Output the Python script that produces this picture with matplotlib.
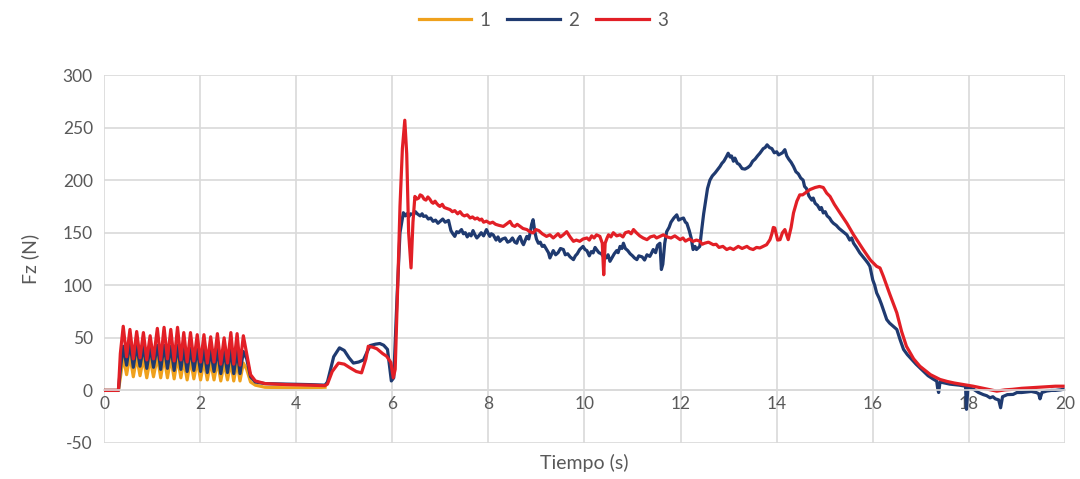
import matplotlib
matplotlib.use("Agg")
import matplotlib.pyplot as plt
from matplotlib.ticker import MultipleLocator

plt.rcParams["font.family"] = ["Lato", "DejaVu Sans"]
plt.rcParams["axes.unicode_minus"] = False

# Fuerza vertical Fz (N) frente al tiempo (s) para tres ensayos
ensayo_1 = [
    (0.00, 0), (0.30, 0), (0.34, 12), (0.40, 32),
    (0.47, 15), (0.54, 33), (0.61, 13), (0.68, 32), (0.75, 14), (0.82, 31),
    (0.89, 12), (0.96, 30), (1.03, 13), (1.11, 32), (1.18, 12), (1.25, 32),
    (1.32, 12), (1.39, 31), (1.46, 11), (1.53, 31), (1.60, 12), (1.66, 29),
    (1.73, 10), (1.80, 29), (1.87, 11), (1.94, 28), (2.01, 10), (2.08, 28),
    (2.15, 10), (2.22, 27), (2.29, 10), (2.36, 28), (2.43, 9), (2.50, 26),
    (2.57, 10), (2.64, 27), (2.70, 9), (2.77, 27), (2.83, 9), (2.90, 26),
    (2.97, 20), (3.05, 8), (3.15, 5), (3.35, 3), (3.80, 2.5), (4.30, 2.5),
    (4.60, 3),
]

ensayo_2 = [
    (0.00, 0), (0.30, 0), (0.34, 20), (0.40, 42),
    (0.47, 24), (0.54, 45), (0.61, 22), (0.68, 43), (0.75, 23), (0.82, 42),
    (0.89, 21), (0.96, 41), (1.03, 22), (1.11, 43), (1.18, 20), (1.25, 43),
    (1.32, 21), (1.39, 42), (1.46, 19), (1.53, 43), (1.60, 20), (1.66, 40),
    (1.73, 18), (1.80, 40), (1.87, 19), (1.94, 39), (2.01, 18), (2.08, 39),
    (2.15, 17), (2.22, 38), (2.29, 18), (2.36, 39), (2.43, 16), (2.50, 37),
    (2.57, 17), (2.64, 39), (2.70, 16), (2.77, 38), (2.83, 16), (2.90, 37),
    (2.97, 30), (3.05, 13), (3.15, 8), (3.35, 6.5), (3.80, 6), (4.30, 5.5),
    (4.60, 5), (4.65, 8), (4.78, 32), (4.90, 40.5), (5.00, 38), (5.10, 31),
    (5.19, 26), (5.30, 27), (5.40, 29), (5.47, 36), (5.54, 42.7), (5.65, 44),
    (5.74, 44.6), (5.82, 43), (5.90, 39), (5.95, 20), (5.98, 9), (6.03, 12),
    (6.10, 90), (6.16, 150), (6.23, 169), (6.27, 166), (6.30, 168),
    (6.34, 165), (6.38, 168), (6.44, 167), (6.48, 170), (6.52, 168),
    (6.58, 166), (6.62, 168), (6.65, 165.5), (6.70, 166), (6.75, 163),
    (6.80, 164), (6.85, 160.8), (6.90, 162), (6.95, 159), (7.00, 161),
    (7.05, 163), (7.10, 160), (7.17, 161.7), (7.22, 152), (7.26, 149),
    (7.30, 146.5), (7.34, 151), (7.38, 150), (7.44, 153), (7.48, 149),
    (7.52, 150), (7.56, 146), (7.60, 149), (7.64, 147), (7.68, 152),
    (7.72, 148), (7.76, 145), (7.80, 147), (7.85, 150), (7.90, 147),
    (7.96, 153), (8.00, 149), (8.03, 146.5), (8.06, 149), (8.10, 148),
    (8.16, 143), (8.20, 146), (8.24, 141.8), (8.29, 144), (8.35, 145),
    (8.40, 141), (8.45, 142), (8.50, 145), (8.55, 141), (8.59, 140),
    (8.62, 144), (8.66, 146.5), (8.70, 141), (8.73, 138.6), (8.77, 143),
    (8.80, 146.5), (8.84, 144), (8.87, 150), (8.90, 158), (8.93, 162.4),
    (8.97, 150), (9.00, 144), (9.04, 140), (9.08, 141), (9.12, 137),
    (9.16, 138), (9.21, 134), (9.25, 131), (9.28, 126), (9.32, 130),
    (9.35, 133), (9.40, 129), (9.45, 131), (9.50, 135), (9.56, 134),
    (9.60, 129), (9.65, 130), (9.70, 127), (9.77, 124.4), (9.81, 128),
    (9.85, 130), (9.90, 134), (9.97, 137), (10.01, 134), (10.05, 133),
    (10.10, 128), (10.14, 132), (10.18, 130.8), (10.22, 136), (10.25, 134),
    (10.30, 131), (10.35, 130), (10.40, 127), (10.45, 126), (10.49, 129),
    (10.53, 122.8), (10.57, 126), (10.62, 130), (10.67, 133), (10.70, 131),
    (10.74, 137), (10.78, 135), (10.81, 140), (10.85, 135), (10.90, 133),
    (10.95, 130), (11.00, 128), (11.04, 126), (11.09, 124.4), (11.13, 128),
    (11.20, 127), (11.25, 124), (11.30, 129), (11.36, 127.5), (11.40, 131),
    (11.43, 134), (11.48, 131), (11.52, 138), (11.57, 140), (11.60, 115),
    (11.63, 120), (11.67, 140), (11.71, 151), (11.76, 155), (11.80, 160),
    (11.86, 164), (11.92, 167), (11.96, 162), (12.00, 163), (12.06, 164),
    (12.10, 160), (12.13, 159), (12.18, 152), (12.22, 145), (12.26, 134),
    (12.30, 137), (12.33, 134), (12.40, 137), (12.44, 153), (12.48, 168),
    (12.52, 180), (12.56, 192), (12.61, 200), (12.66, 204), (12.72, 207),
    (12.77, 210), (12.82, 213), (12.86, 216), (12.90, 218), (12.95, 222),
    (12.99, 225.6), (13.03, 222), (13.06, 223), (13.10, 218), (13.13, 221),
    (13.18, 216), (13.22, 215), (13.28, 211), (13.34, 210.5), (13.40, 212),
    (13.45, 214), (13.50, 218), (13.55, 220), (13.60, 223), (13.65, 225.6),
    (13.72, 230), (13.76, 231), (13.80, 233.6), (13.85, 231), (13.90, 230),
    (13.95, 226), (14.00, 227), (14.04, 224), (14.08, 225), (14.12, 226),
    (14.17, 229), (14.21, 223), (14.25, 220), (14.30, 217), (14.35, 213),
    (14.40, 208), (14.45, 206), (14.50, 202), (14.55, 200), (14.58, 194),
    (14.62, 192), (14.67, 185), (14.73, 181), (14.76, 183), (14.80, 178),
    (14.85, 176), (14.90, 172), (14.93, 174), (14.97, 168.8), (15.01, 170),
    (15.05, 166), (15.10, 164), (15.14, 161), (15.18, 159), (15.24, 157),
    (15.30, 154), (15.38, 151), (15.46, 148), (15.52, 143), (15.56, 145),
    (15.60, 140), (15.66, 136), (15.73, 130.8), (15.78, 128), (15.85, 124),
    (15.90, 121), (15.94, 118), (16.00, 105), (16.04, 100), (16.08, 92.8),
    (16.13, 88), (16.18, 82), (16.24, 74), (16.29, 67.4), (16.35, 64),
    (16.40, 62), (16.45, 60), (16.50, 58), (16.57, 48), (16.64, 39),
    (16.72, 34), (16.80, 30), (16.90, 25), (16.98, 21.5), (17.08, 17),
    (17.15, 14), (17.25, 11), (17.33, 8.8), (17.35, 2), (17.37, -2),
    (17.40, 8), (17.50, 7), (17.60, 6), (17.70, 5.5), (17.80, 5), (17.93, 4),
    (17.95, -18), (17.98, 3), (18.10, 1), (18.20, -2), (18.30, -4),
    (18.37, -5), (18.44, -7), (18.50, -6), (18.55, -8), (18.62, -9),
    (18.66, -16.5), (18.70, -6), (18.80, -4), (18.92, -3.8), (19.00, -2),
    (19.10, -2), (19.20, -1.5), (19.30, -1), (19.40, -2), (19.45, -3),
    (19.48, -8), (19.52, -2), (19.62, -0.6), (19.72, 0), (19.80, 0),
    (19.90, 0.5), (19.96, 1),
]

ensayo_3 = [
    (0.00, 0), (0.30, 0), (0.34, 35), (0.40, 61),
    (0.47, 32), (0.54, 58), (0.61, 30), (0.68, 56), (0.75, 31), (0.82, 55),
    (0.89, 29), (0.96, 52), (1.03, 30), (1.11, 59), (1.18, 29), (1.25, 60),
    (1.32, 30), (1.39, 58), (1.46, 28), (1.53, 60), (1.60, 29), (1.66, 55),
    (1.73, 27), (1.80, 55), (1.87, 28), (1.94, 53), (2.01, 27), (2.08, 53),
    (2.15, 26), (2.22, 51), (2.29, 27), (2.36, 54), (2.43, 25), (2.50, 50),
    (2.57, 26), (2.64, 55), (2.70, 25), (2.77, 54), (2.83, 24), (2.90, 52),
    (2.97, 35), (3.05, 15), (3.15, 9), (3.35, 6.5), (3.80, 5.5), (4.30, 5),
    (4.60, 4.5), (4.65, 6), (4.75, 18), (4.88, 26), (5.00, 25), (5.12, 21.5),
    (5.25, 18), (5.36, 16.7), (5.45, 30), (5.50, 42), (5.60, 41), (5.68, 39.6),
    (5.80, 35), (5.88, 32.6), (5.97, 26.6), (6.02, 12), (6.06, 20),
    (6.12, 110), (6.16, 175), (6.21, 230), (6.26, 257), (6.30, 225),
    (6.34, 150), (6.39, 116.5), (6.43, 160), (6.47, 184.5), (6.51, 182),
    (6.55, 183), (6.58, 186), (6.62, 185), (6.66, 182), (6.70, 181),
    (6.74, 184), (6.78, 182), (6.82, 179), (6.85, 178), (6.89, 180),
    (6.92, 178), (6.96, 176), (6.99, 175), (7.04, 177), (7.08, 174),
    (7.14, 173), (7.20, 172), (7.25, 170), (7.30, 171), (7.36, 168),
    (7.41, 170), (7.46, 167), (7.50, 166), (7.56, 167), (7.62, 164),
    (7.67, 165), (7.72, 163), (7.77, 164), (7.82, 162), (7.86, 163),
    (7.90, 160), (7.96, 161), (8.03, 159), (8.09, 160), (8.15, 158),
    (8.22, 157), (8.31, 156), (8.37, 158), (8.45, 160.8), (8.50, 157),
    (8.55, 156), (8.60, 158), (8.66, 156), (8.72, 154), (8.80, 153),
    (8.86, 151), (8.93, 149.8), (8.99, 153), (9.05, 152), (9.12, 149),
    (9.21, 146.5), (9.28, 148), (9.35, 145), (9.40, 147), (9.45, 149),
    (9.50, 146), (9.56, 148), (9.63, 151), (9.70, 146), (9.77, 141.8),
    (9.83, 143), (9.90, 141.8), (9.97, 144), (10.05, 145), (10.10, 143),
    (10.15, 147), (10.20, 145), (10.25, 148), (10.32, 146.5), (10.37, 140),
    (10.40, 110), (10.43, 140), (10.47, 145), (10.50, 148), (10.55, 146),
    (10.60, 150), (10.67, 147), (10.74, 148), (10.80, 146), (10.85, 150),
    (10.92, 151), (10.97, 149), (11.02, 153), (11.08, 150), (11.15, 147),
    (11.22, 145), (11.30, 143.4), (11.37, 146), (11.45, 147), (11.50, 145),
    (11.57, 146.5), (11.64, 148), (11.72, 146), (11.80, 145), (11.88, 147),
    (11.99, 143.4), (12.05, 145), (12.10, 142), (12.18, 144), (12.26, 141.8),
    (12.33, 143), (12.40, 142), (12.45, 139), (12.50, 140), (12.58, 141),
    (12.68, 138.6), (12.74, 139), (12.80, 136), (12.88, 137), (12.96, 134),
    (13.03, 135.5), (13.10, 134), (13.20, 137), (13.28, 135), (13.38, 137),
    (13.44, 135), (13.51, 134), (13.58, 136), (13.65, 135.5), (13.72, 137),
    (13.79, 138.6), (13.86, 143.4), (13.90, 149), (13.93, 155), (13.96, 154.5),
    (14.02, 143), (14.07, 143.4), (14.12, 150), (14.17, 153), (14.24, 143.4),
    (14.30, 155), (14.35, 168.8), (14.42, 180), (14.48, 186), (14.54, 186),
    (14.60, 188), (14.69, 191), (14.80, 193), (14.89, 194), (14.97, 193),
    (15.04, 187.7), (15.11, 184.5), (15.20, 177), (15.30, 170), (15.46, 159),
    (15.60, 148), (15.80, 134), (15.95, 124), (16.08, 118), (16.15, 116.5),
    (16.22, 108.5), (16.35, 92), (16.50, 73.8), (16.60, 56), (16.70, 42),
    (16.85, 30), (16.98, 23), (17.20, 15), (17.40, 10.4), (17.55, 8.5),
    (17.70, 7), (17.90, 5.5), (18.09, 4), (18.20, 3), (18.30, 2),
    (18.45, 0.5), (18.58, -0.7), (18.75, 0.5), (18.90, 1), (19.10, 2),
    (19.27, 2.5), (19.45, 3), (19.60, 3.5), (19.80, 4), (19.96, 4),
]

t1, fz1 = zip(*ensayo_1)
t2, fz2 = zip(*ensayo_2)
t3, fz3 = zip(*ensayo_3)

series = [("1", t1, fz1, "#EFA11C"), ("2", t2, fz2, "#1F3A70"), ("3", t3, fz3, "#E21F26")]

fig = plt.figure(figsize=(10.8, 4.79), dpi=100)
ax = fig.add_axes([0.0963, 0.0752, 0.8898, 0.7682])

for label, t, fz, color in series:
    ax.plot(t, fz, color=color, lw=2.3, label=label, solid_joinstyle="round")

ax.set_xlim(0, 20)
ax.set_ylim(-50, 300)
ax.xaxis.set_major_locator(MultipleLocator(2))
ax.yaxis.set_major_locator(MultipleLocator(50))
ax.grid(True, color="#D9D9D9", lw=1.2)
ax.set_axisbelow(True)
for side in ("top", "right", "left"):
    ax.spines[side].set_visible(False)
ax.spines["bottom"].set_position(("data", 0))
ax.spines["bottom"].set_color("#D9D9D9")
ax.spines["bottom"].set_linewidth(1.2)
ax.tick_params(axis="both", length=0, labelsize=12.5, colors="#595959")
ax.tick_params(axis="x", pad=4)
ax.tick_params(axis="y", pad=8)

ax.set_xlabel("Tiempo (s)", fontsize=14, color="#595959")
ax.xaxis.set_label_coords(0.5, -0.03)
ax.set_ylabel("Fz (N)", fontsize=14, color="#595959")
ax.yaxis.set_label_coords(-0.067, 0.5)

fig.legend(loc="center", bbox_to_anchor=(0.503, 0.958), ncol=3, frameon=False,
           fontsize=13.5, handlelength=2.8, columnspacing=0.9, handletextpad=0.45,
           labelcolor="#595959")

fig.savefig("out.png", dpi=100)
